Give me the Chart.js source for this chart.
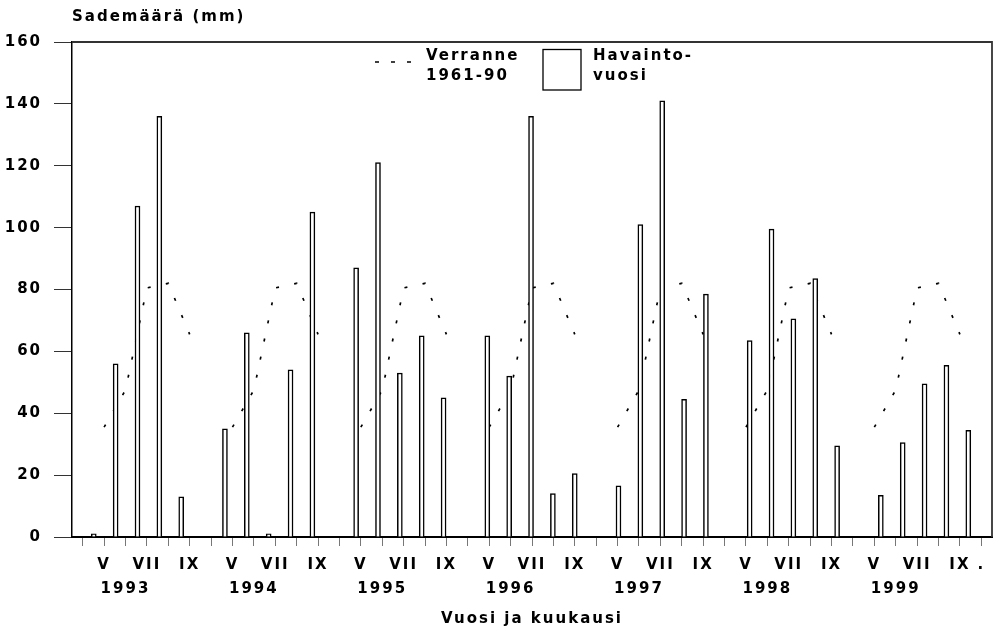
<!DOCTYPE html>
<html>
<head>
<meta charset="utf-8">
<title>Sademäärä</title>
<script src="https://cdn.jsdelivr.net/npm/chart.js"></script>
<style>
  body { margin: 0; background: #fff; }
  #wrap { width: 998px; height: 632px; }
</style>
</head>
<body>
<div id="wrap"><canvas id="rain-chart" width="998" height="632"></canvas></div>
<script>
// years and months (V..IX shown as bars, X slot stays empty)
const years = ['1993', '1994', '1995', '1996', '1997', '1998', '1999'];
const monthTicks = ['V', '', 'VII', '', 'IX', ''];

// observed precipitation (mm), months V..IX
const rain1993 = [1, 56, 107, 136, 13];
const rain1994 = [35, 66, 1, 54, 105];
const rain1995 = [87, 121, 53, 65, 45];
const rain1996 = [65, 52, 136, 14, 20.5];
const rain1997 = [16.5, 101, 141, 44.5, 78.5];
const rain1998 = [63.5, 99.5, 70.5, 83.5, 29.5];
const rain1999 = [13.5, 30.5, 49.5, 55.5, 34.5];
const rainByYear = [rain1993, rain1994, rain1995, rain1996, rain1997, rain1998, rain1999];

// reference 1961-90, months V..IX
const normals = [35.5, 47.5, 80.5, 82, 65.5];

const yTicks = [0, 20, 40, 60, 80, 100, 120, 140, 160];

// tick labels on the month axis: one empty slot in front, then six per year
const tickLabels = [''];
years.forEach(function(yr) {
    monthTicks.forEach(function(m, j) {
        tickLabels.push(j === 1 ? ['', yr] : m);
    });
});
tickLabels[tickLabels.length - 1] = '.';

// bars: month index 6*year + month
const barPoints = [];
rainByYear.forEach(function(vals, yi) {
    vals.forEach(function(v, j) {
        barPoints.push({x: yi * 6 + j, y: v});
    });
});

// reference line, one piece per year
const normalLine = new Array(tickLabels.length).fill(null);
years.forEach(function(yr, yi) {
    normals.forEach(function(v, j) {
        normalLine[yi * 6 + 1 + j] = v;
    });
});

const FONT = "'DejaVu Sans', 'Liberation Sans', Arial, sans-serif";
Chart.defaults.font.family = FONT;
Chart.defaults.font.size = 15;
Chart.defaults.font.weight = 'bold';
Chart.defaults.color = '#000';

const decor = {
    id: 'decor',
    beforeDraw(chart) {
        chart.ctx.letterSpacing = '2px';
    },
    afterDraw(chart) {
        const ctx = chart.ctx;
        const a = chart.chartArea;
        ctx.save();
        // frame top / right
        ctx.strokeStyle = '#333';
        ctx.lineWidth = 1.8;
        ctx.beginPath();
        ctx.moveTo(a.left, a.top);
        ctx.lineTo(a.right, a.top);
        ctx.lineTo(a.right, a.bottom);
        ctx.stroke();

        ctx.fillStyle = '#000';
        ctx.font = 'bold 15px ' + FONT;
        ctx.textAlign = 'left';
        ctx.textBaseline = 'alphabetic';
        ctx.fillText('Sademäärä (mm)', a.left, 21);

        // legend
        ctx.strokeStyle = '#000';
        ctx.lineWidth = 1.6;
        ctx.setLineDash([4, 12]);
        ctx.beginPath();
        ctx.moveTo(375, 62);
        ctx.lineTo(415, 62);
        ctx.stroke();
        ctx.setLineDash([]);
        ctx.fillText('Verranne', 426, 60);
        ctx.fillText('1961-90', 426, 80);
        ctx.lineWidth = 1.3;
        ctx.strokeRect(543, 49.5, 38, 40.5);
        ctx.fillText('Havainto-', 593, 60);
        ctx.fillText('vuosi', 593, 80);
        ctx.restore();
    }
};

new Chart(document.getElementById('rain-chart'), {
    type: 'bar',
    data: {
        datasets: [
            {
                type: 'bar',
                label: 'Havaintovuosi',
                data: barPoints,
                xAxisID: 'xb',
                yAxisID: 'y',
                backgroundColor: '#fff',
                borderColor: '#000',
                borderWidth: 1.5,
                barThickness: 5,
                order: 1
            },
            {
                type: 'line',
                label: 'Verranne 1961-90',
                data: normalLine,
                xAxisID: 'xl',
                yAxisID: 'y',
                borderColor: '#000',
                borderWidth: 1.7,
                borderDash: [3, 15.5],
                pointRadius: 0,
                tension: 0,
                spanGaps: false,
                fill: false,
                order: 2
            }
        ]
    },
    options: {
        responsive: false,
        animation: false,
        layout: { padding: { top: 42, right: 6, left: 0, bottom: 0 } },
        plugins: {
            legend: { display: false },
            tooltip: { enabled: false }
        },
        scales: {
            xl: {
                type: 'category',
                position: 'bottom',
                labels: tickLabels,
                offset: true,
                grid: { offset: false, drawOnChartArea: false, tickLength: 9, color: '#777', tickWidth: 1 },
                border: { color: '#000', width: 2 },
                ticks: {
                    autoSkip: false,
                    maxRotation: 0,
                    padding: 7,
                    font: { size: 15, weight: 'bold', lineHeight: 1.6 }
                },
                title: {
                    display: true,
                    text: 'Vuosi ja kuukausi',
                    font: { size: 15, weight: 'bold' },
                    padding: { top: 0, bottom: 4 }
                },
                afterFit(scale) { scale.height = 95; }
            },
            xb: {
                type: 'linear',
                display: false,
                offset: false,
                min: -1.11,
                max: 40.97
            },
            y: {
                type: 'linear',
                min: yTicks[0],
                max: yTicks[yTicks.length - 1],
                grid: { drawOnChartArea: false, tickLength: 18, color: '#333', tickWidth: 1 },
                border: { color: '#000', width: 1.5 },
                afterBuildTicks(scale) {
                    scale.ticks = yTicks.map(function(v) { return {value: v}; });
                },
                ticks: { padding: 12, font: { size: 15, weight: 'bold' } },
                afterFit(scale) { scale.width = 72; }
            }
        }
    },
    plugins: [decor]
});
</script>
</body>
</html>
